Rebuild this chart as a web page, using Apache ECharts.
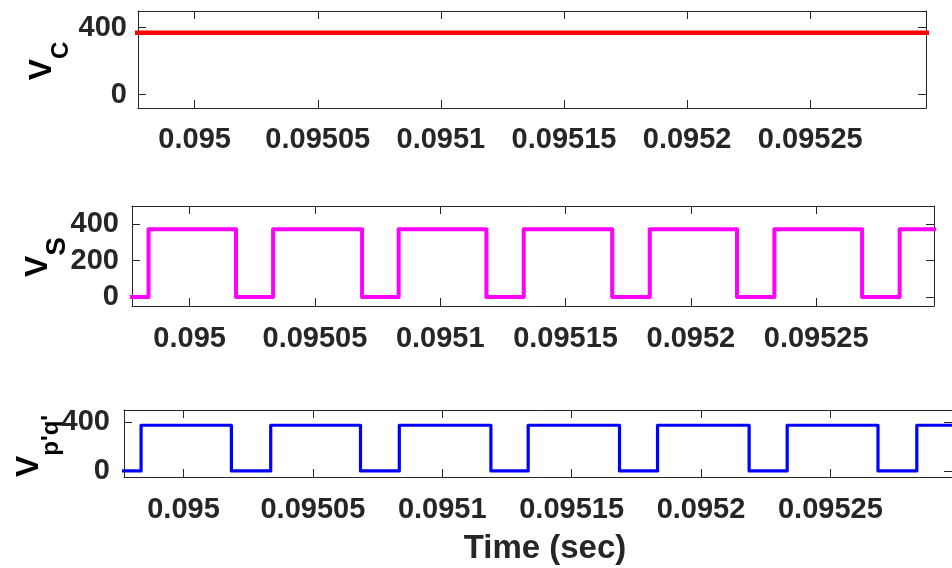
<!DOCTYPE html>
<html>
<head>
<meta charset="utf-8">
<script src="https://cdn.jsdelivr.net/npm/echarts@6/dist/echarts.min.js"></script>
<style>
html,body{margin:0;padding:0;background:#fff;}
#chart{width:952px;height:568px;}
</style>
</head>
<body>
<div id="chart"></div>
<script>
// ---- data ----
const xMin = 0.094977;
const xMax = 0.095297;
const xTickValues = [0.095, 0.09505, 0.0951, 0.09515, 0.0952, 0.09525];
const xTickLabels = ['0.095', '0.09505', '0.0951', '0.09515', '0.0952', '0.09525'];

// V_C : constant DC level
const vcTime = [0.09497, 0.0953];
const vcValue = [370, 370];
const vcYTicks = [0, 400];

// V_S : square wave, switching instants (s) and levels (V)
const vsEdges = [0.0949836, 0.0950185, 0.0950333, 0.0950688, 0.0950834, 0.0951184, 0.0951333,
                 0.0951686, 0.0951836, 0.0952184, 0.0952333, 0.0952683, 0.0952833];
const vsLow = 0, vsHigh = 372;
const vsYTicks = [0, 200, 400];

// V_p'q' : square wave
const vpqEdges = [0.0949836, 0.0950185, 0.0950337, 0.0950684, 0.0950834, 0.0951188, 0.0951332,
                  0.0951685, 0.0951832, 0.0952186, 0.0952333, 0.0952684, 0.0952834];
const vpqLow = 0, vpqHigh = 375;
const vpqYTicks = [0, 400];

const tStart = 0.09497, tEnd = 0.0953;

function pairs(xs, ys) { return xs.map((x, i) => [x, ys[i]]); }
function stepPoints(edges, low, high) {
  const pts = [[tStart, low]];
  let level = low;
  edges.forEach(e => {
    pts.push([e, level]);
    level = (level === low) ? high : low;
    pts.push([e, level]);
  });
  pts.push([tEnd, level]);
  return pts;
}

// ---- styling ----
const FONT = "'Liberation Sans', Arial, Helvetica, sans-serif";
const INK = '#262626';
const grids = [
  { left: 138, top: 11, width: 788, height: 97 },
  { left: 132, top: 206, width: 802, height: 100 },
  { left: 124, top: 410, width: 832, height: 67 }
];
const yRanges = [[-80, 500], [-50, 500], [-50, 500]];
const yTicks = [vcYTicks, vsYTicks, vpqYTicks];
const labelMargins = [17, 18, 18];
const yLabelMargins = [11, 13, 14];

const xAxes = [], yAxes = [];
grids.forEach((g, i) => {
  const line = { show: true, onZero: false, lineStyle: { color: INK, width: 1 } };
  const tick = { show: true, inside: true, length: 8, lineStyle: { color: INK, width: 1 }, customValues: xTickValues };
  xAxes.push({
    type: 'value', gridIndex: i, position: 'bottom', min: xMin, max: xMax,
    axisLine: line, axisTick: tick, splitLine: { show: false },
    axisLabel: {
      show: true, customValues: xTickValues, margin: labelMargins[i],
      fontFamily: FONT, fontWeight: 'bold', fontSize: 29, color: INK,
      formatter: v => { const k = xTickValues.findIndex(t => Math.abs(t - v) < 1e-9); return k >= 0 ? xTickLabels[k] : ''; }
    },
    name: i === 2 ? 'Time (sec)' : '',
    nameLocation: 'middle', nameGap: 55,
    nameTextStyle: { fontFamily: FONT, fontWeight: 'bold', fontSize: 33, color: INK, padding: [0, 0, 0, 14] }
  });
  xAxes.push({
    type: 'value', gridIndex: i, position: 'top', min: xMin, max: xMax,
    axisLine: line, axisTick: tick, splitLine: { show: false }, axisLabel: { show: false }
  });
  const ytick = { show: true, inside: true, length: 8, lineStyle: { color: INK, width: 1 }, customValues: yTicks[i] };
  yAxes.push({
    type: 'value', gridIndex: i, position: 'left', min: yRanges[i][0], max: yRanges[i][1],
    axisLine: line, axisTick: ytick, splitLine: { show: false },
    axisLabel: {
      show: true, customValues: yTicks[i], margin: yLabelMargins[i],
      fontFamily: FONT, fontWeight: 'bold', fontSize: 29, color: INK
    }
  });
  yAxes.push({
    type: 'value', gridIndex: i, position: 'right', min: yRanges[i][0], max: yRanges[i][1],
    axisLine: line, axisTick: ytick, splitLine: { show: false }, axisLabel: { show: false }
  });
});

function yName(x, y, sub, subSize, subPad) {
  return {
    type: 'text', x: x, y: y, rotation: Math.PI / 2, silent: true,
    style: {
      text: '{v|V}{s|' + sub + '}',
      align: 'center', verticalAlign: 'middle',
      rich: {
        v: { fontFamily: FONT, fontWeight: 'bold', fontSize: 32, lineHeight: 36, verticalAlign: 'top', fill: '#000' },
        s: { fontFamily: FONT, fontWeight: 'bold', fontSize: subSize, lineHeight: subSize, verticalAlign: 'top', padding: [subPad, 0, 0, 0], fill: '#000' }
      }
    }
  };
}

const chart = echarts.init(document.getElementById('chart'), null, { renderer: 'canvas' });
chart.setOption({
  animation: false,
  backgroundColor: '#ffffff',
  grid: grids.map(g => Object.assign({ containLabel: false }, g)),
  xAxis: xAxes,
  yAxis: yAxes,
  graphic: [
    yName(44.5, 61, 'C', 24, 23),
    yName(39.7, 257, 'S', 28, 22),
    yName(31, 446, "p'q'", 24, 26)
  ],
  series: [
    { type: 'line', xAxisIndex: 0, yAxisIndex: 0, data: pairs(vcTime, vcValue), showSymbol: false, clip: true,
      lineStyle: { color: '#ff0000', width: 4.5 } },
    { type: 'line', xAxisIndex: 2, yAxisIndex: 2, data: stepPoints(vsEdges, vsLow, vsHigh), showSymbol: false, clip: true,
      lineStyle: { color: '#ff00ff', width: 4, join: 'round', cap: 'round' } },
    { type: 'line', xAxisIndex: 4, yAxisIndex: 4, data: stepPoints(vpqEdges, vpqLow, vpqHigh), showSymbol: false, clip: true,
      lineStyle: { color: '#0000ff', width: 3.2, join: 'round', cap: 'round' } }
  ]
});
</script>
</body>
</html>
